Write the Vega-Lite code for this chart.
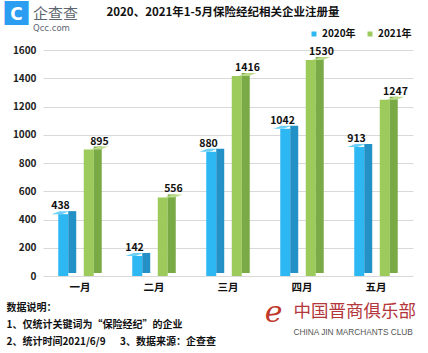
{
  "$schema": "https://vega.github.io/schema/vega-lite/v6.json",
  "width": 370,
  "height": 226,
  "autosize": {"type": "none"},
  "padding": {"left": 43, "top": 50, "right": 15, "bottom": 77},
  "background": "white",
  "config": {"font": "Noto Sans CJK SC", "view": {"stroke": null}},
  "title": {
    "text": "企查查",
    "subtitle": "Qcc.com",
    "anchor": "start",
    "frame": "group",
    "dx": -10,
    "offset": -33,
    "font": "Noto Sans CJK SC",
    "fontSize": 15,
    "fontWeight": "normal",
    "color": "#5d6670",
    "subtitleFont": "DejaVu Sans",
    "subtitleFontSize": 8.5,
    "subtitleColor": "#5d6670",
    "subtitlePadding": 2
  },
  "data": {
    "values": [
      {"month": "一月", "year": "2020年", "value": 438},
      {"month": "二月", "year": "2020年", "value": 142},
      {"month": "三月", "year": "2020年", "value": 880},
      {"month": "四月", "year": "2020年", "value": 1042},
      {"month": "五月", "year": "2020年", "value": 913},
      {"month": "一月", "year": "2021年", "value": 895},
      {"month": "二月", "year": "2021年", "value": 556},
      {"month": "三月", "year": "2021年", "value": 1416},
      {"month": "四月", "year": "2021年", "value": 1530},
      {"month": "五月", "year": "2021年", "value": 1247}
    ]
  },
  "layer": [
    {
      "mark": {"type": "bar", "width": 10},
      "encoding": {
        "x": {
          "field": "month", "type": "nominal",
          "sort": ["一月", "二月", "三月", "四月", "五月"],
          "scale": {"paddingInner": 0, "paddingOuter": 0},
          "axis": {
            "orient": "bottom", "labelAngle": 0, "ticks": false, "domain": false,
            "labelPadding": 6, "labelFontSize": 10.5, "labelFontWeight": "bold", "labelColor": "#111",
            "title": ["数据说明：", "1、仅统计关键词为“保险经纪”的企业", "2、统计时间2021/6/9\u3000\u00a0\u00a03、数据来源：企查查"],
            "titleX": -37, "titleY": 26, "titleAlign": "left", "titleBaseline": "top",
            "titleFontSize": 10, "titleFontWeight": "bold", "titleLineHeight": 17, "titleColor": "#111"
          }
        },
        "xOffset": {"field": "year", "type": "nominal", "sort": ["2020年", "2021年"], "scale": {"paddingInner": 0, "paddingOuter": 0.45, "align": 0.326}},
        "y": {
          "field": "value", "type": "quantitative",
          "scale": {"domain": [0, 1600], "nice": false},
          "axis": {
            "values": [0, 200, 400, 600, 800, 1000, 1200, 1400, 1600], "format": "d",
            "grid": true, "gridColor": "#d9d9d9", "domain": false, "ticks": false,
            "labelPadding": 7, "labelFontSize": 10, "labelFontWeight": "bold", "labelColor": "#222",
            "title": "2020、2021年1-5月保险经纪相关企业注册量",
            "titleAngle": 0, "titleX": 63, "titleY": -38, "titleAlign": "left", "titleBaseline": "middle",
            "titleFontSize": 11.5, "titleFontWeight": "bold", "titleColor": "#111"
          }
        },
        "color": {
          "field": "year", "type": "nominal",
          "scale": {"domain": ["2020年", "2021年"], "range": ["#2db8f3", "#9ccb5c"]},
          "legend": {
            "orient": "none", "direction": "horizontal", "legendX": 266, "legendY": -21,
            "title": null, "symbolType": "square", "symbolSize": 25, "symbolStrokeWidth": 0,
            "labelFontSize": 10, "labelFontWeight": "bold", "labelColor": "#111",
            "labelOffset": 3, "columnPadding": 9, "padding": 0
          }
        }
      }
    },
    {
      "mark": {"type": "bar", "width": 8, "yOffset": -3},
      "encoding": {
        "x": {
          "field": "month", "type": "nominal",
          "sort": ["一月", "二月", "三月", "四月", "五月"],
          "scale": {"paddingInner": 0, "paddingOuter": 0},
          "axis": {
            "orient": "top", "labels": false, "ticks": false, "domain": false, "grid": false,
            "title": "CHINA JIN MARCHANTS CLUB",
            "titleX": 250, "titleY": 282, "titleAlign": "left", "titleBaseline": "middle",
            "titleFont": "Liberation Sans", "titleFontSize": 8.3, "titleFontWeight": "normal", "titleColor": "#555"
          }
        },
        "xOffset": {"field": "year", "type": "nominal", "sort": ["2020年", "2021年"], "scale": {"paddingInner": 0, "paddingOuter": 0.45, "align": 0.717}},
        "y": {
          "field": "value", "type": "quantitative",
          "scale": {"domain": [0, 1600], "nice": false},
          "axis": {
            "orient": "right", "labels": false, "ticks": false, "domain": false, "grid": false,
            "title": "中国晋商俱乐部",
            "titleAngle": 0, "titleX": -120, "titleY": 261, "titleAlign": "left", "titleBaseline": "middle",
            "titleFontSize": 17.5, "titleFontWeight": "normal", "titleColor": "#b3363a"
          }
        },
        "color": {
          "field": "year", "type": "nominal",
          "scale": {"domain": ["2020年", "2021年"], "range": ["#2391c5", "#79aa46"]},
          "legend": null
        }
      }
    },
    {
      "mark": {"type": "point", "shape": "M-1,0 L0.111,0 L1,-0.333 L-0.111,-0.333 Z", "size": 324, "filled": true, "opacity": 1, "strokeWidth": 0},
      "encoding": {
        "x": {
          "field": "month", "type": "nominal",
          "sort": ["一月", "二月", "三月", "四月", "五月"],
          "scale": {"paddingInner": 0, "paddingOuter": 0},
          "axis": {
            "orient": "top", "labels": false, "ticks": false, "domain": false, "grid": false,
            "title": "■",
            "titleX": -27, "titleY": -36, "titleAlign": "center", "titleBaseline": "middle",
            "titleFont": "Noto Sans CJK SC", "titleFontSize": 30, "titleFontWeight": "normal", "titleColor": "#2b9ef2"
          }
        },
        "xOffset": {"field": "year", "type": "nominal", "sort": ["2020年", "2021年"], "scale": {"paddingInner": 0, "paddingOuter": 0.45}},
        "y": {
          "field": "value", "type": "quantitative",
          "scale": {"domain": [0, 1600], "nice": false},
          "axis": {
            "orient": "right", "labels": false, "ticks": false, "domain": false, "grid": false,
            "title": "e",
            "titleAngle": 0, "titleX": -140, "titleY": 262, "titleAlign": "center", "titleBaseline": "middle",
            "titleFont": "DejaVu Serif", "titleFontSize": 30, "titleFontStyle": "italic", "titleFontWeight": "normal", "titleColor": "#c0392b"
          }
        },
        "color": {
          "field": "year", "type": "nominal",
          "scale": {"domain": ["2020年", "2021年"], "range": ["#6ad0f8", "#badc8a"]},
          "legend": null
        }
      }
    },
    {
      "mark": {"type": "text", "dy": -5, "baseline": "alphabetic", "fontSize": 10.5, "fontWeight": "bold", "color": "#111"},
      "encoding": {
        "x": {
          "field": "month", "type": "nominal",
          "sort": ["一月", "二月", "三月", "四月", "五月"],
          "scale": {"paddingInner": 0, "paddingOuter": 0},
          "axis": {
            "orient": "top", "labels": false, "ticks": false, "domain": false, "grid": false,
            "title": "C",
            "titleX": -27, "titleY": -36, "titleAlign": "center", "titleBaseline": "middle",
            "titleFont": "DejaVu Sans", "titleFontSize": 17, "titleFontWeight": "bold", "titleColor": "#ffffff"
          }
        },
        "xOffset": {"field": "year", "type": "nominal", "sort": ["2020年", "2021年"], "scale": {"paddingInner": 0, "paddingOuter": 0.45}},
        "y": {
          "field": "value", "type": "quantitative",
          "scale": {"domain": [0, 1600], "nice": false},
          "axis": null
        },
        "text": {"field": "value", "type": "quantitative"}
      }
    }
  ],
  "resolve": {"scale": {"x": "independent", "y": "independent", "xOffset": "independent", "color": "independent"}}
}
